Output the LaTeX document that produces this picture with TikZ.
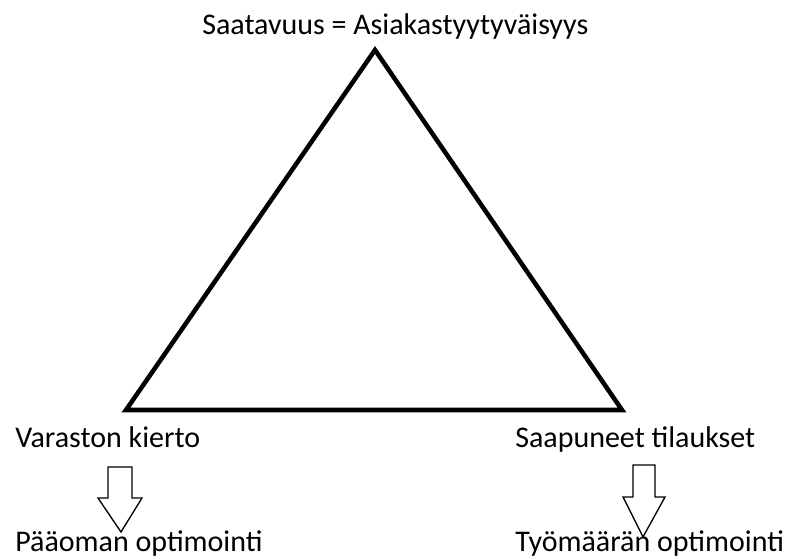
\documentclass[tikz,border=0pt]{standalone}
\usepackage{fontspec}
\setmainfont{Carlito}
\usepackage{tikz}
\usetikzlibrary{positioning}

\begin{document}
\begin{tikzpicture}[x=0.75pt, y=-0.75pt,
  every node/.style={font=\fontsize{22.5}{27}\selectfont, inner sep=0pt},
  blockarrow/.style={draw=black, line width=1pt, fill=white, line join=miter}]

\useasboundingbox (0,0) rectangle (792,559);

% --- triangle ---
\coordinate (top) at (375,50);
\coordinate (bl) at (126,410);
\coordinate (br) at (622,410);
\draw[line width=3.4pt, line join=miter] (top) -- (br) -- (bl) -- cycle;

% --- labels ---
\node[anchor=base west] (saatavuus) at (202,35) {Saatavuus = Asiakastyytyväisyys};
\node[anchor=base west] (varasto) at (15,447) {Varaston kierto};
\node[anchor=base west] (tilaukset) at (515,447) {Saapuneet tilaukset};
\node[anchor=base west] (paaoma) at (15,551) {Pääoman optimointi};
\node[anchor=base west] (tyomaara) at (515,551) {Työmäärän optimointi};

% --- hollow arrows ---
\draw[blockarrow] (108,467) -- (132,467) -- (132,498) -- (142,498)
  -- (121,532) -- (98,498) -- (108,498) -- cycle;
\draw[blockarrow] (633,465) -- (655,465) -- (655,497) -- (665,497)
  -- (643,537) -- (623,497) -- (633,497) -- cycle;

\end{tikzpicture}
\end{document}
